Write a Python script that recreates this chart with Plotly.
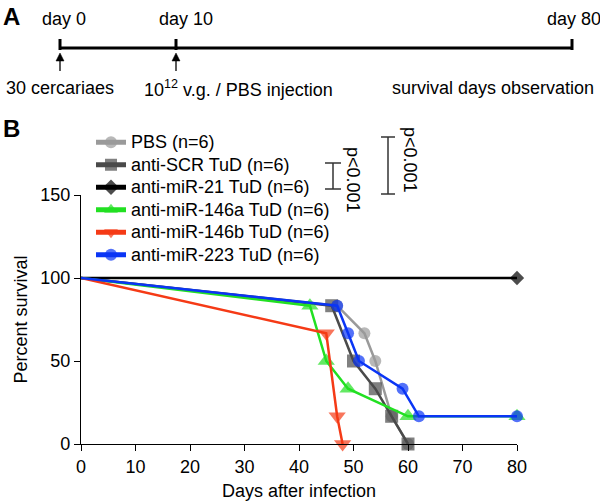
import plotly.graph_objects as go

# ---------------- data ----------------
series_names = ["PBS (n=6)", "anti-SCR TuD (n=6)", "anti-miR-21 TuD (n=6)",
                "anti-miR-146a TuD (n=6)", "anti-miR-146b TuD (n=6)", "anti-miR-223 TuD (n=6)"]
pbs_days = [0, 47, 52, 54, 57, 60]
pbs_surv = [100, 83.3, 66.7, 50, 16.7, 0]
scr_days = [0, 46, 50, 54, 57, 60]
scr_surv = [100, 83.3, 50, 33.3, 16.7, 0]
mir21_days = [0, 80]
mir21_surv = [100, 100]
mir146a_days = [0, 42, 45, 49, 60, 80]
mir146a_surv = [100, 83.3, 50, 33.3, 16.7, 16.7]
mir146b_days = [0, 45, 47, 48]
mir146b_surv = [100, 66.7, 16.7, 0]
mir223_days = [0, 47, 49, 51, 59, 62, 80]
mir223_surv = [100, 83.3, 66.7, 50, 33.3, 16.7, 16.7]

x_ticks = [0, 10, 20, 30, 40, 50, 60, 70, 80]
y_ticks = [0, 50, 100, 150]

timeline_top = ["day 0", "day 10", "day 80"]
timeline_bottom = ["30 cercariaes", "10<sup>12</sup> v.g. / PBS injection", "survival days observation"]
pvals = ["p<0.001", "p<0.001"]

FONT = "Liberation Sans, Arial, Helvetica, sans-serif"

styles = [
    dict(color="#9a9a9a", symbol="circle", size=12),
    dict(color="#4a4a4a", symbol="square", size=13),
    dict(color="#000000", symbol="diamond", size=11),
    dict(color="#22e022", symbol="triangle-up", size=15),
    dict(color="#f53a16", symbol="triangle-down", size=15),
    dict(color="#0a35f5", symbol="circle", size=12),
]
all_days = [pbs_days, scr_days, mir21_days, mir146a_days, mir146b_days, mir223_days]
all_surv = [pbs_surv, scr_surv, mir21_surv, mir146a_surv, mir146b_surv, mir223_surv]

fig = go.Figure()
for name, d, s, st in zip(series_names, all_days, all_surv, styles):
    sizes = [0 if v == 0 else st["size"] for v in d]
    fig.add_trace(go.Scatter(
        x=d, y=s, name="<span style='font-size:18px'>%s</span>" % name, mode="lines+markers",
        line=dict(color=st["color"], width=2.5),
        marker=dict(color=st["color"], symbol=st["symbol"], size=sizes, line=dict(width=0)),
        cliponaxis=False,
    ))

# layout geometry helpers (pixel -> paper)
L, R, T, B = 81, 83, 195, 60
W, H = 600 - L - R, 504 - T - B


def px(xp):
    return (xp - L) / W


def py(yp):
    return (504 - B - yp) / H


shapes = []
annotations = []

# Panel A timeline
shapes.append(dict(type="line", xref="paper", yref="paper", x0=px(60), x1=px(572),
                   y0=py(48), y1=py(48), line=dict(color="black", width=3)))
for xp in [60, 176, 572]:
    shapes.append(dict(type="line", xref="paper", yref="paper", x0=px(xp), x1=px(xp),
                       y0=py(39), y1=py(50), line=dict(color="black", width=3)))
for xp in [60, 176]:
    shapes.append(dict(type="line", xref="paper", yref="paper", x0=px(xp), x1=px(xp),
                       y0=py(71), y1=py(59), line=dict(color="black", width=1.3)))
    path = "M %f,%f L %f,%f L %f,%f Z" % (px(xp - 4), py(61), px(xp), py(53), px(xp + 4), py(61))
    shapes.append(dict(type="path", xref="paper", yref="paper", path=path,
                       fillcolor="black", line=dict(color="black", width=0.5)))
for txt, xp in zip(timeline_top, [64, 186, 574]):
    annotations.append(dict(xref="paper", yref="paper", x=px(xp), y=py(19), text=txt,
                            xanchor="center", yanchor="middle",
                            showarrow=False, font=dict(size=18, color="black")))
for txt, xp in zip(timeline_bottom, [60, 238, 493]):
    annotations.append(dict(xref="paper", yref="paper", x=px(xp), y=py(88), text=txt,
                            xanchor="center", yanchor="middle",
                            showarrow=False, font=dict(size=18, color="black")))
annotations.append(dict(xref="paper", yref="paper", x=px(11), y=py(16), text="<b>A</b>",
                        xanchor="center", yanchor="middle",
                        showarrow=False, font=dict(size=24, color="black")))
annotations.append(dict(xref="paper", yref="paper", x=px(11), y=py(128), text="<b>B</b>",
                        xanchor="center", yanchor="middle",
                        showarrow=False, font=dict(size=24, color="black")))

# significance brackets
for (xc, y0, y1, hw, tx, ty), ptxt in zip([(333, 163, 189, 8, 353, 180), (388, 137, 194, 7, 410, 160)], pvals):
    shapes.append(dict(type="line", xref="paper", yref="paper", x0=px(xc), x1=px(xc),
                       y0=py(y0), y1=py(y1), line=dict(color="#333333", width=1.5)))
    for yy in (y0, y1):
        shapes.append(dict(type="line", xref="paper", yref="paper", x0=px(xc - hw), x1=px(xc + hw),
                           y0=py(yy), y1=py(yy), line=dict(color="#333333", width=1.5)))
    annotations.append(dict(xref="paper", yref="paper", x=px(tx), y=py(ty), text=ptxt,
                            xanchor="center", yanchor="middle",
                            textangle=90, showarrow=False, font=dict(size=18, color="black")))

fig.update_layout(
    width=600, height=504,
    margin=dict(l=L, r=R, t=T, b=B, autoexpand=False),
    paper_bgcolor="white", plot_bgcolor="white",
    font=dict(family=FONT, size=18, color="black"),
    showlegend=True,
    legend=dict(x=px(91), y=py(126), xanchor="left", yanchor="top",
                bgcolor="rgba(0,0,0,0)", font=dict(size=15), itemsizing="constant",
                tracegroupgap=0),
    shapes=shapes, annotations=annotations,
    xaxis=dict(range=[0, 80], tickvals=x_ticks, ticks="outside", ticklen=6, tickwidth=1,
               tickcolor="black", showline=True, linecolor="black", linewidth=1.2,
               showgrid=False, zeroline=False, tickfont=dict(size=18),
               title=dict(text="Days after infection", font=dict(size=18), standoff=8)),
    yaxis=dict(range=[0, 150], tickvals=y_ticks, ticks="outside", ticklen=6, tickwidth=1,
               tickcolor="black", showline=True, linecolor="black", linewidth=1.2,
               showgrid=False, zeroline=False, tickfont=dict(size=18),
               title=dict(text="Percent survival", font=dict(size=18), standoff=7)),
)

fig.write_html("out.html", config={"displayModeBar": False},
               post_script="document.body.style.margin='0';")
